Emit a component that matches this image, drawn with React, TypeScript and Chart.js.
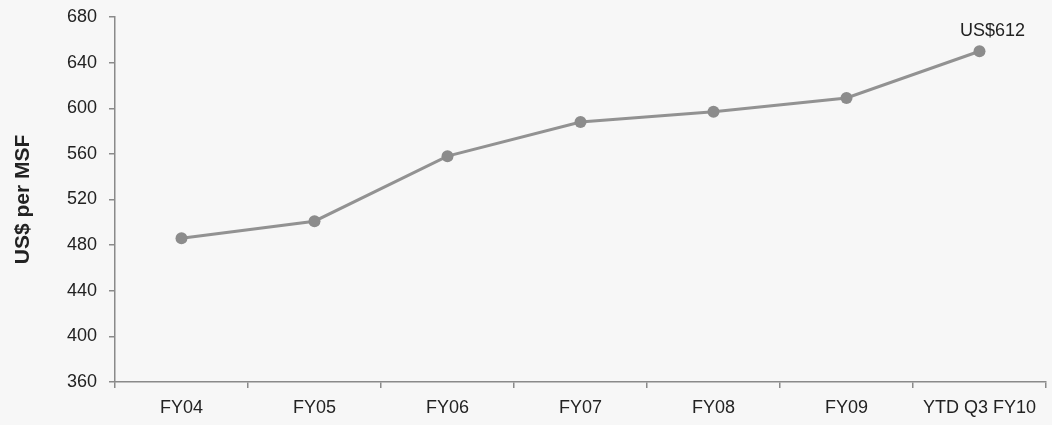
import React, { useEffect, useRef } from "react";
import { Chart, registerables } from "chart.js";

Chart.register(...registerables);

const categories: string[] = ["FY04", "FY05", "FY06", "FY07", "FY08", "FY09", "YTD Q3 FY10"];
const pricePerMSF: number[] = [486, 501, 558, 588, 597, 609, 650];
const yTicks: number[] = [360, 400, 440, 480, 520, 560, 600, 640, 680];
const yAxisTitle = "US$ per MSF";
const lastPointLabel = "US$612";

const FONT = "'Liberation Sans', Arial, Helvetica, sans-serif";

export default function App() {
  const canvasRef = useRef<HTMLCanvasElement | null>(null);

  useEffect(() => {
    const canvas = canvasRef.current;
    if (!canvas) return;

    const labelPlugin = {
      id: "lastLabel",
      afterDatasetsDraw(chart: any) {
        const meta = chart.getDatasetMeta(0);
        const pt = meta.data[meta.data.length - 1];
        if (!pt) return;
        const ctx = chart.ctx;
        ctx.save();
        ctx.font = `18px ${FONT}`;
        ctx.fillStyle = "#222222";
        ctx.textAlign = "center";
        ctx.textBaseline = "alphabetic";
        ctx.fillText(lastPointLabel, pt.x + 13, pt.y - 15);
        ctx.restore();
      },
    };

    const chart = new Chart(canvas, {
      type: "line",
      data: {
        labels: categories,
        datasets: [
          {
            data: pricePerMSF,
            borderColor: "#929292",
            backgroundColor: "#8c8c8c",
            borderWidth: 3,
            pointRadius: 6,
            pointHoverRadius: 6,
            pointBackgroundColor: "#8c8c8c",
            pointBorderColor: "#8c8c8c",
            pointBorderWidth: 0,
            tension: 0,
            fill: false,
          },
        ],
      },
      options: {
        responsive: false,
        animation: false,
        layout: { padding: { top: 17, right: -4, left: 0, bottom: 0 } },
        plugins: {
          legend: { display: false },
          tooltip: { enabled: false },
        },
        scales: {
          x: {
            type: "category",
            offset: true,
            border: { display: true, color: "#8a8a8a", width: 1.5 },
            grid: {
              display: true,
              offset: true,
              drawOnChartArea: false,
              drawTicks: true,
              tickLength: 6,
              color: "#8a8a8a",
              lineWidth: 1.5,
            },
            ticks: {
              color: "#222222",
              font: { family: FONT, size: 18 },
              padding: 9,
              maxRotation: 0,
              autoSkip: false,
            },
            afterFit(scale: any) {
              scale.height = 43;
              scale.paddingLeft = 0;
              scale.paddingRight = 0;
            },
          },
          y: {
            min: yTicks[0],
            max: yTicks[yTicks.length - 1],
            afterBuildTicks(scale: any) {
              scale.ticks = yTicks.map((v) => ({ value: v }));
            },
            border: { display: true, color: "#8a8a8a", width: 1.5 },
            grid: {
              display: true,
              drawOnChartArea: false,
              drawTicks: true,
              tickLength: 6,
              color: "#8a8a8a",
              lineWidth: 1.5,
            },
            ticks: {
              color: "#222222",
              font: { family: FONT, size: 18 },
              padding: 12,
            },
            title: {
              display: true,
              text: yAxisTitle,
              color: "#222222",
              font: { family: FONT, size: 21, weight: "bold" },
              padding: { top: 11, bottom: 0 },
            },
            afterFit(scale: any) {
              scale.width = 115;
              scale.paddingTop = 0;
              scale.paddingBottom = 0;
            },
          },
        },
      },
      plugins: [labelPlugin],
    } as any);

    return () => chart.destroy();
  }, []);

  return (
    <div
      style={{
        position: "absolute",
        left: 0,
        top: 0,
        width: 1052,
        height: 425,
        background: "#f7f7f7",
      }}
    >
      <canvas ref={canvasRef} width={1052} height={425} style={{ display: "block" }} />
    </div>
  );
}
